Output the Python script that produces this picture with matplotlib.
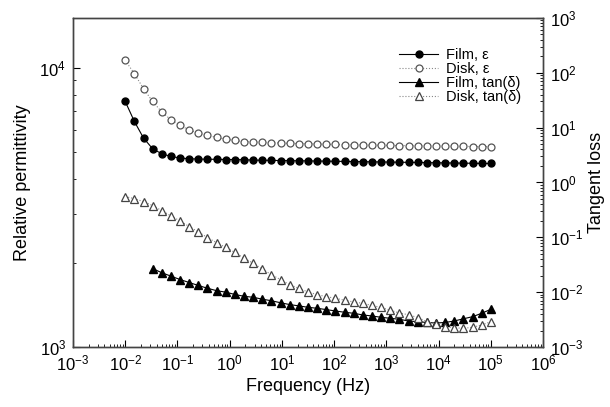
import numpy as np
import matplotlib.pyplot as plt
from matplotlib.ticker import LogLocator, NullFormatter

plt.rcParams['font.family'] = ['Liberation Sans', 'DejaVu Sans']
plt.rcParams['mathtext.fontset'] = 'custom'
plt.rcParams['mathtext.rm'] = 'Liberation Sans'
plt.rcParams['axes.unicode_minus'] = False

# frequency sweep, 41 points from 1e-2 to 1e5 Hz
freq = np.logspace(-2, 5, 41)

film_eps = [7570, 6420, 5600, 5125, 4920, 4810, 4750, 4720, 4710, 4700,
            4700, 4690, 4690, 4680, 4670, 4660, 4660, 4650, 4650, 4640,
            4640, 4630, 4630, 4620, 4620, 4610, 4610, 4600, 4600, 4590,
            4590, 4580, 4580, 4570, 4570, 4560, 4560, 4550, 4550, 4540, 4540]
disk_eps = [10620, 9520, 8410, 7570, 6940, 6510, 6210, 5990, 5830, 5720,
            5630, 5550, 5490, 5440, 5420, 5400, 5390, 5370, 5360, 5350,
            5340, 5330, 5320, 5310, 5300, 5300, 5290, 5280, 5280, 5270,
            5260, 5260, 5250, 5250, 5240, 5240, 5230, 5230, 5220, 5220, 5210]
# film tan(delta) starts at the 4th frequency
film_tan = [0.0269, 0.0226, 0.0196, 0.0170, 0.0150, 0.01325, 0.01178, 0.01064,
            0.0100, 0.00908, 0.00841, 0.00807, 0.00745, 0.00697, 0.00641,
            0.00594, 0.00562, 0.00530, 0.00508, 0.00481, 0.00454, 0.00430,
            0.00412, 0.00384, 0.00368, 0.00348, 0.00334, 0.00320, 0.00298,
            0.00290, 0.00280, 0.00274, 0.00280, 0.00298, 0.00327, 0.00357,
            0.00412, 0.00487]
disk_tan = [0.553, 0.508, 0.448, 0.379, 0.307, 0.246, 0.199, 0.157, 0.1255,
            0.0988, 0.080, 0.0654, 0.0530, 0.0417, 0.0337, 0.0263, 0.0209,
            0.0169, 0.0137, 0.0117, 0.0101, 0.00900, 0.00828, 0.00774,
            0.00714, 0.00662, 0.00627, 0.00572, 0.00526, 0.00467, 0.00417,
            0.00387, 0.00345, 0.00290, 0.00263, 0.00235, 0.00225, 0.00219,
            0.00229, 0.00252, 0.00290]

fig = plt.figure(figsize=(6.1, 4.07), dpi=100)
ax = fig.add_axes([0.1197, 0.1474, 0.7705, 0.8084])
ax2 = ax.twinx()

l1, = ax.plot(freq, film_eps, '-', color='black', lw=0.8, marker='o',
              ms=5, mfc='black', mec='black', label='Film, ε')
l2, = ax.plot(freq, disk_eps, ':', color='#888888', lw=0.8, marker='o',
              ms=5, mfc='white', mec='#555555', mew=0.9, label='Disk, ε')
l3, = ax2.plot(freq[3:], film_tan, '-', color='black', lw=0.8, marker='^',
               ms=5.5, mfc='black', mec='black', label='Film, tan(δ)')
l4, = ax2.plot(freq, disk_tan, ':', color='#888888', lw=0.8, marker='^',
               ms=5.5, mfc='white', mec='#444444', mew=0.9, label='Disk, tan(δ)')

ax.set_xscale('log')
ax.set_yscale('log')
ax2.set_yscale('log')
ax.set_xlim(1e-3, 1e6)
ax.set_ylim(1e3, 10**4.178)
ax2.set_ylim(1e-3, 1e3)

ax.xaxis.set_major_locator(LogLocator(base=10, numticks=20))
ax.xaxis.set_minor_locator(LogLocator(base=10, subs=np.arange(2, 10), numticks=20))
ax.xaxis.set_minor_formatter(NullFormatter())
ax.yaxis.set_major_locator(LogLocator(base=10, numticks=10))
ax.yaxis.set_minor_locator(LogLocator(base=10, subs=np.arange(2, 10), numticks=10))
ax.yaxis.set_minor_formatter(NullFormatter())
ax2.yaxis.set_major_locator(LogLocator(base=10, numticks=10))
ax2.yaxis.set_minor_locator(LogLocator(base=10, subs=np.arange(2, 10), numticks=10))
ax2.yaxis.set_minor_formatter(NullFormatter())

for a in (ax, ax2):
    a.tick_params(which='major', direction='in', length=5, width=0.8,
                  labelsize=12, pad=5)
    a.tick_params(which='minor', direction='in', length=2.5, width=0.6)
    for s in a.spines.values():
        s.set_color('#444444')
        s.set_linewidth(1.0)
ax.tick_params(top=False, which='both')

ax.set_xlabel('Frequency (Hz)', fontsize=13, labelpad=3)
ax.set_ylabel('Relative permittivity', fontsize=13, labelpad=6)
ax2.set_ylabel('Tangent loss', fontsize=13, labelpad=3)

ax.legend(handles=[l1, l2, l3, l4], loc='upper left', frameon=False,
          fontsize=10.5, bbox_to_anchor=(0.672, 0.94), handlelength=2.7,
          handletextpad=0.5, labelspacing=0.0, borderpad=0.2)

fig.savefig('out.png', dpi=100)
